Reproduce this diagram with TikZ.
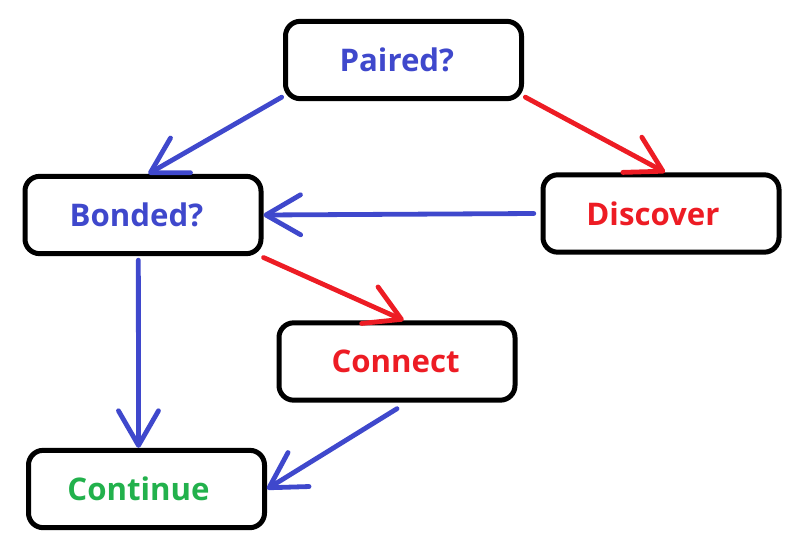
\documentclass[tikz,border=0pt]{standalone}
\usepackage{fontspec}
\setmainfont{Open Sans}
\usetikzlibrary{arrows.meta}
\definecolor{pblue}{HTML}{3F48CC}
\definecolor{pred}{HTML}{ED1C24}
\definecolor{pgreen}{HTML}{22B14C}
\begin{document}
\begin{tikzpicture}[x=0.75pt,y=-0.75pt,
  box/.style={draw=black,line width=3.75pt,rounded corners=11pt,minimum width=177pt,minimum height=58pt,inner sep=0pt,font=\fontsize{23.4}{28}\selectfont\bfseries},
  conn/.style={line width=3.6pt,line cap=round,-{Straight Barb[round,length=26pt,width=30pt]}},
  bl/.style={conn,draw=pblue},
  rd/.style={conn,draw=pred}]
\useasboundingbox (0,0) rectangle (791,547);
\node[box,text=pblue] (pair) at (403.5,60) {Paired?\kern10pt};
\node[box,text=pblue] (bond) at (143,215) {Bonded?\kern10pt};
\node[box,text=pred] (disc) at (661,213.5) {Discover\kern12pt};
\node[box,text=pred] (conn) at (397,361.5) {Connect\kern2pt};
\node[box,text=pgreen] (cont) at (146.5,489) {Continue\kern12pt};
\draw[bl] ([xshift=-1pt,yshift=3pt]pair.south west) -- ([xshift=4pt]bond.north);
\draw[rd] ([xshift=1pt,yshift=3pt]pair.south east) -- ([xshift=3pt]disc.north);
\draw[bl] ([xshift=-5pt]disc.west) -- (bond.east);
\draw[rd] ([xshift=0pt,yshift=-1pt]bond.south east) -- ([xshift=5pt]conn.north);
\draw[bl] ([xshift=-3.5pt,yshift=-3pt]bond.south) -- ([xshift=-6pt]cont.north);
\draw[bl] ([yshift=-4.5pt]conn.south) -- (cont.east);
\end{tikzpicture}
\end{document}
